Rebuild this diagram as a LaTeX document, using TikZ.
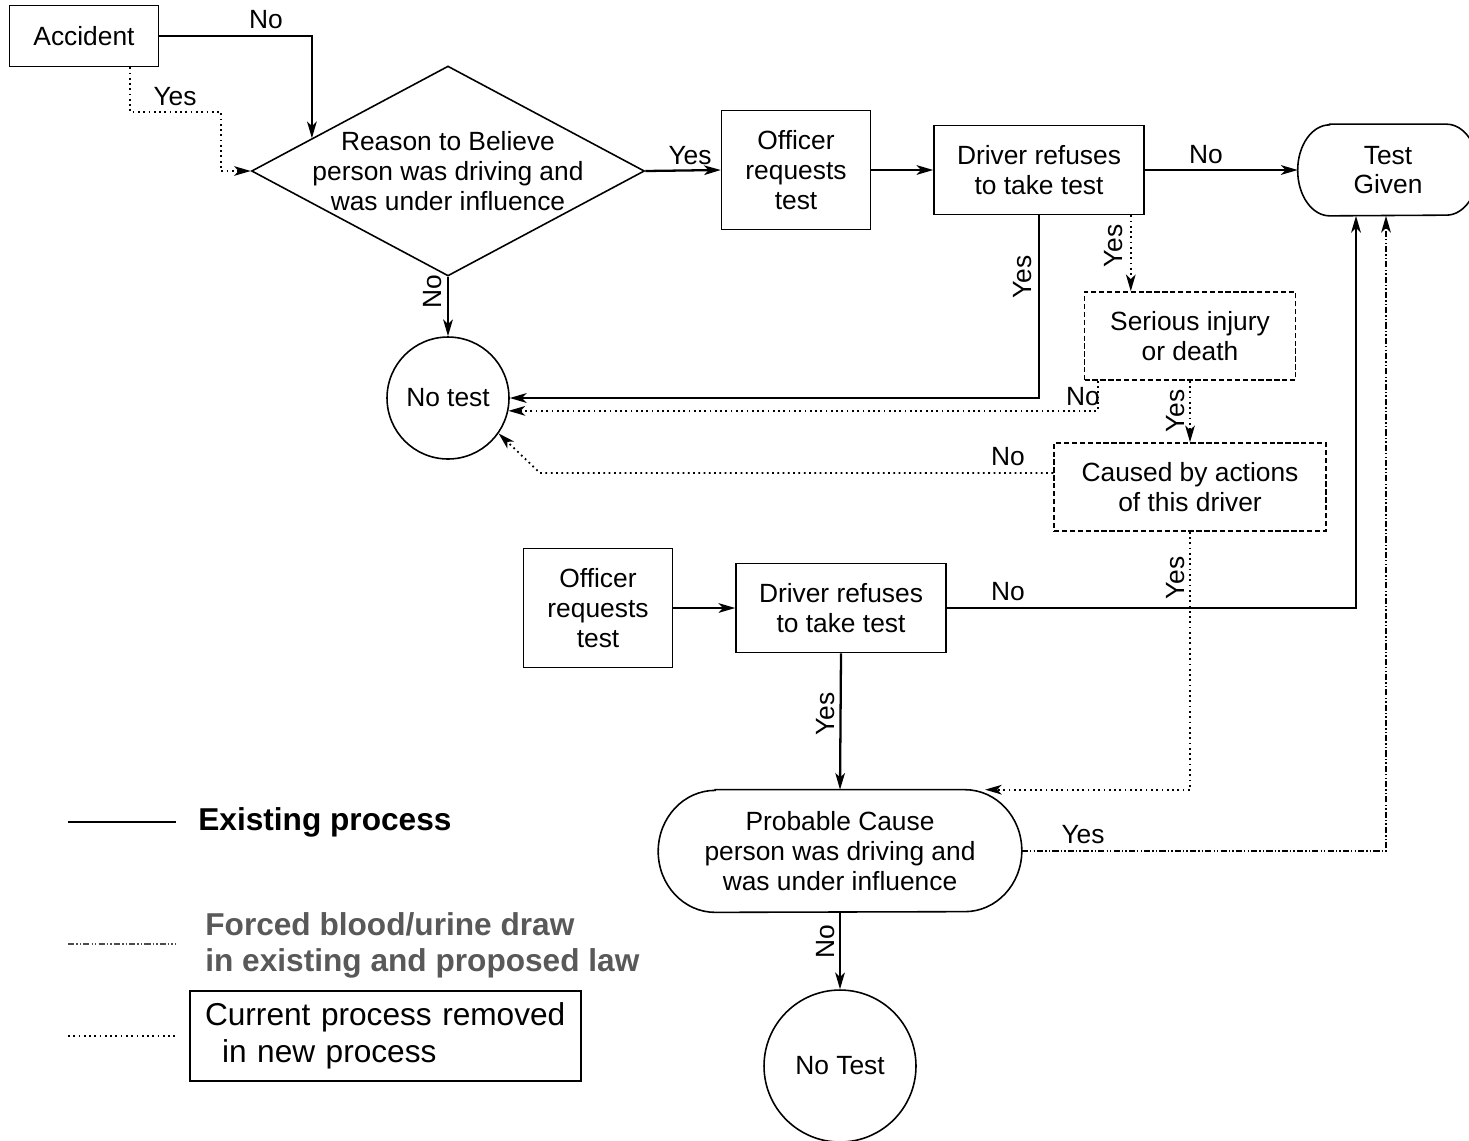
\documentclass[tikz,border=0pt]{standalone}
\usepackage{fontspec}
\setmainfont{Liberation Sans}
\usetikzlibrary{shapes.geometric,arrows.meta,calc}

\tikzset{
  proc/.style={draw, line width=0.9pt, align=center, inner sep=0pt},
  cut/.style={proc, dash pattern=on 3pt off 1.5pt},
  decision/.style={draw, line width=0.9pt, diamond, inner sep=0pt, minimum width=7.86cm, minimum height=4.2cm},
  term/.style={align=center, inner sep=0pt},
  stop/.style={proc, circle},
  tip/.style={-{Stealth[length=9.5pt, width=5.5pt, inset=2.6pt]}},
  flow/.style={tip, line width=1.3pt},
  removed/.style={tip, line width=1pt, dash pattern=on 1pt off 2pt},
  forced/.style={tip, line width=1pt, dash pattern=on 3.5pt off 1.2pt on 0.8pt off 1.2pt on 0.8pt off 1.2pt},
  lbl/.style={inner sep=0pt},
  vlbl/.style={inner sep=0pt, rotate=90}
}

% outline with elliptic ends round a term node: node, x radius (px), y radius (cm)
\newcommand{\termoutline}[3]{%
  \draw[line width=0.9pt] ($(#1.north west)+(#2,0)$) -- ($(#1.north east)+(-#2,0)$)
    arc[start angle=90, end angle=-90, x radius=#2*0.02cm, y radius=#3]
    -- ($(#1.south west)+(#2,0)$)
    arc[start angle=270, end angle=90, x radius=#2*0.02cm, y radius=#3] -- cycle;}

\begin{document}
\begin{tikzpicture}[x=0.02cm, y=-0.02cm, font=\fontsize{15}{17}\selectfont]
\useasboundingbox (0,0) rectangle (1469,1140);

% boxes
\node[proc, minimum width=2.98cm, minimum height=1.22cm] (acc) at (84,36) {Accident};
\node[decision] (rtb) at (448,171) {};
\node[align=center, inner sep=0pt] (rtbtxt) at (rtb) {Reason to Believe\\person was driving and\\was under influence};
\node[proc, minimum width=2.98cm, minimum height=2.38cm] (off1) at (796,170) {Officer\\requests\\test};
\node[proc, minimum width=4.2cm, minimum height=1.78cm] (drv1) at (1039,170) {Driver refuses\\to take test};
\node[term, minimum width=3.6cm, minimum height=1.82cm] (tg) at (1388,170) {Test\\Given};
\termoutline{tg}{32}{0.91cm}
\node[stop, minimum size=2.44cm] (nt1) at (448,398) {No test};
\node[cut, minimum width=4.22cm, minimum height=1.76cm] (ser) at (1190,336) {Serious injury\\or death};
\node[cut, minimum width=5.44cm, minimum height=1.76cm] (cau) at (1190,487) {Caused by actions\\of this driver};
\node[proc, minimum width=2.98cm, minimum height=2.38cm] (off2) at (598,608) {Officer\\requests\\test};
\node[proc, minimum width=4.2cm, minimum height=1.78cm] (drv2) at (841,608) {Driver refuses\\to take test};
\node[term, minimum width=7.26cm, minimum height=2.44cm] (pc) at (840,851) {Probable Cause\\person was driving and\\was under influence};
\termoutline{pc}{57}{1.22cm}
\node[stop, minimum size=3.04cm] (nt2) at (840,1066) {No Test};

% existing process
\draw[flow] (acc.east) -| ($(rtb.west)!0.31!(rtb.north)$);
\draw[flow] (rtb.east) -- (off1.west);
\draw[flow] (off1.east) -- (drv1.west);
\draw[flow] (drv1.east) -- (tg.west);
\draw[flow] (rtb.south) -- (nt1.north);
\draw[flow] (drv1.south) |- (nt1.east);
\draw[flow] (off2.east) -- (drv2.west);
\draw[flow] (drv2.east) -| ($(tg.south)+(-32,0)$);
\draw[flow] (drv2.south) -- (pc.north);
\draw[flow] (pc.south) -- (nt2.north);

% removed in new process
\draw[removed] ($(acc.south)+(46,0)$) |- (221,112) |- (rtb.west);
\draw[removed] ($(drv1.south east)+(-14,0)$) coordinate (d1y) -- (d1y |- ser.north);
\draw[removed] ($(ser.south west)+(14,0)$) |- (nt1.-12);
\draw[removed] (ser.south) -- (cau.north);
\draw[removed] ($(cau.west)+(0,-14)$) -- (540,473) -- (nt1.-35);
\draw[removed] (cau.south) |- ($(pc.north)+(145,0)$);

% forced draw
\draw[forced] (pc.east) -| ($(tg.south)+(-2,0)$);

% labels
\node[lbl] (l1) at (266,20) {No};
\node[lbl] (l2) at (175,97) {Yes};
\node[lbl] (l3) at (690,156) {Yes};
\node[lbl] (l4) at (1206,155) {No};
\node[vlbl] (l5) at (433,292) {No};
\node[vlbl] (l6) at (1023,277) {Yes};
\node[vlbl] (l7) at (1114,246) {Yes};
\node[lbl] (l8) at (1083,397) {No};
\node[vlbl] (l9) at (1176,411) {Yes};
\node[lbl] (l10) at (1008,457) {No};
\node[vlbl] (l11) at (1176,578) {Yes};
\node[lbl] (l12) at (1008,592) {No};
\node[vlbl] (l13) at (826,714) {Yes};
\node[lbl] (l14) at (1083,835) {Yes};
\node[vlbl] (l15) at (826,942) {No};

% legend
\draw[line width=1.3pt] (68,822) -- (176,822);
\node[anchor=west, inner sep=0pt, font=\fontsize{18}{20.5}\selectfont\bfseries] (lg1) at (198,822) {Existing process};
\draw[line width=0.9pt, black!70, dash pattern=on 3.5pt off 1.2pt on 0.8pt off 1.2pt on 0.8pt off 1.2pt] (68,944) -- (176,944);
\node[anchor=west, inner sep=0pt, align=left, text=black!65, font=\fontsize{18}{20.5}\selectfont\bfseries] (lg2) at (205,945) {Forced blood/urine draw\\in existing and proposed law};
\draw[line width=1pt, dash pattern=on 1pt off 2pt] (68,1036) -- (176,1036);
\node[proc, align=left, text width=7.22cm, inner xsep=0.3cm, minimum height=1.8cm, font=\fontsize{18}{21}\selectfont] (lg3) at (385.5,1036) {Current process removed\\\hspace*{0.34cm}in new process};
\end{tikzpicture}
\end{document}
